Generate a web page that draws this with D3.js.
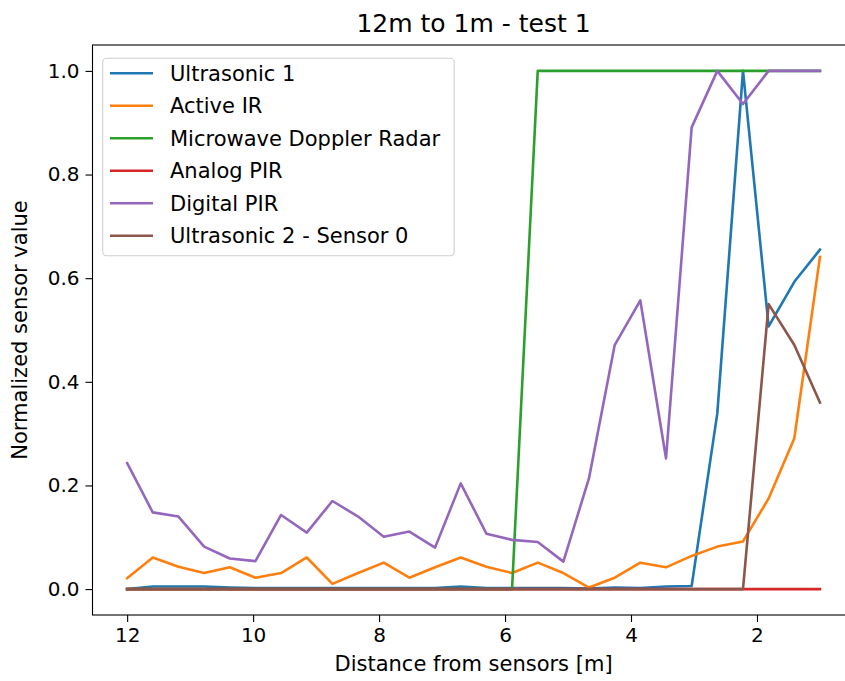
<!DOCTYPE html>
<html>
<head>
<meta charset="utf-8">
<script src="https://cdn.jsdelivr.net/npm/d3@7"></script>
<style>
  html, body { margin: 0; padding: 0; background: #fff; }
  svg { display: block; font-family: "DejaVu Sans", sans-serif; }
</style>
</head>
<body>
<svg id="chart" width="845" height="681"></svg>
<script>
// ---- data ----
const distances = [12, 11.593, 11.185, 10.778, 10.370, 9.963, 9.556, 9.148, 8.741, 8.333,
  7.926, 7.519, 7.111, 6.704, 6.296, 5.889, 5.481, 5.074, 4.667, 4.259,
  3.852, 3.444, 3.037, 2.630, 2.222, 1.815, 1.407, 1.0];

const ultrasonic1 = [0.0, 0.005, 0.005, 0.005, 0.003, 0.002, 0.002, 0.002, 0.002, 0.002,
  0.002, 0.002, 0.002, 0.005, 0.002, 0.002, 0.002, 0.002, 0.001, 0.003,
  0.002, 0.005, 0.006, 0.339, 1.0, 0.507, 0.593, 0.655];
const activeIR = [0.021, 0.061, 0.043, 0.031, 0.042, 0.022, 0.031, 0.061, 0.010, 0.031,
  0.051, 0.022, 0.042, 0.061, 0.043, 0.031, 0.051, 0.031, 0.003, 0.022,
  0.051, 0.042, 0.064, 0.082, 0.092, 0.175, 0.291, 0.641];
const microwave = [0, 0, 0, 0, 0, 0, 0, 0, 0, 0, 0, 0, 0, 0, 0, 0,
  1, 1, 1, 1, 1, 1, 1, 1, 1, 1, 1, 1];
const analogPIR = [0, 0, 0, 0, 0, 0, 0, 0, 0, 0, 0, 0, 0, 0,
  0, 0, 0, 0, 0, 0, 0, 0, 0, 0, 0, 0, 0, 0];
const digitalPIR = [0.243, 0.148, 0.140, 0.082, 0.059, 0.054, 0.143, 0.109, 0.170, 0.140,
  0.101, 0.111, 0.080, 0.204, 0.107, 0.095, 0.091, 0.053, 0.214, 0.471,
  0.557, 0.252, 0.891, 1.0, 0.936, 1.0, 1.0, 1.0];
const ultrasonic2 = [0, 0, 0, 0, 0, 0, 0, 0, 0, 0, 0, 0, 0, 0, 0, 0, 0, 0, 0, 0,
  0, 0, 0, 0, 0, 0.550, 0.471, 0.360];

const seriesNames = ["Ultrasonic 1", "Active IR", "Microwave Doppler Radar", "Analog PIR", "Digital PIR", "Ultrasonic 2 - Sensor 0"];
const seriesValues = [ultrasonic1, activeIR, microwave, analogPIR, digitalPIR, ultrasonic2];
const seriesColors = ["#1f77b4", "#ff7f0e", "#2ca02c", "#d62728", "#9467bd", "#8c564b"];

const xTicks = [12, 10, 8, 6, 4, 2];
const yTicks = [0.0, 0.2, 0.4, 0.6, 0.8, 1.0];

const titleText = "12m to 1m - test 1";
const xLabel = "Distance from sensors [m]";
const yLabel = "Normalized sensor value";

// ---- layout ----
const svg = d3.select("#chart");
const plot = { left: 92.5, right: 854.6, top: 45, bottom: 615 };

const x = d3.scaleLinear().domain([12.55, 0.45]).range([plot.left, plot.right]);
const y = d3.scaleLinear().domain([-0.05, 1.05]).range([plot.bottom, plot.top]);

const tickFont = 20;
const labelFont = 21;

// lines
const line = d3.line().x((d, i) => x(distances[i])).y(d => y(d));
const g = svg.append("g");
seriesValues.forEach((vals, k) => {
  g.append("path")
    .datum(vals)
    .attr("d", line)
    .attr("fill", "none")
    .attr("stroke", seriesColors[k])
    .attr("stroke-width", 2.6)
    .attr("stroke-linejoin", "round")
    .attr("stroke-linecap", "square");
});

// axes
const xAxis = d3.axisBottom(x).tickValues(xTicks).tickFormat(d3.format("d")).tickSize(7).tickPadding(6);
const yAxis = d3.axisLeft(y).tickValues(yTicks).tickFormat(d3.format(".1f")).tickSize(7).tickPadding(6);

const gx = svg.append("g").attr("transform", `translate(0,${plot.bottom})`).call(xAxis);
const gy = svg.append("g").attr("transform", `translate(${plot.left},0)`).call(yAxis);
[gx, gy].forEach(a => {
  a.select(".domain").remove();
  a.selectAll(".tick line").attr("stroke", "#000").attr("stroke-width", 1.1);
  a.selectAll(".tick text").attr("fill", "#000").style("font-size", tickFont + "px").style("font-family", "DejaVu Sans");
});

// spines
svg.append("rect")
  .attr("x", plot.left).attr("y", plot.top)
  .attr("width", plot.right - plot.left).attr("height", plot.bottom - plot.top)
  .attr("fill", "none").attr("stroke", "#000").attr("stroke-width", 1.1);

// title & labels
svg.append("text").attr("x", (plot.left + plot.right) / 2).attr("y", 32)
  .attr("text-anchor", "middle").style("font-size", "25px").text(titleText);
svg.append("text").attr("x", (plot.left + plot.right) / 2).attr("y", 671)
  .attr("text-anchor", "middle").style("font-size", labelFont + "px").text(xLabel);
svg.append("text")
  .attr("transform", `translate(27,${(plot.top + plot.bottom) / 2}) rotate(-90)`)
  .attr("text-anchor", "middle").style("font-size", labelFont + "px").text(yLabel);

// legend
const leg = svg.append("g");
leg.append("rect").attr("x", 102.7).attr("y", 58.3).attr("width", 351.5).attr("height", 197.4)
  .attr("rx", 4).attr("fill", "#fff").attr("fill-opacity", 0.8).attr("stroke", "#d0d0d0").attr("stroke-width", 1.1);
seriesNames.forEach((name, k) => {
  const cy = 73.3 + k * 32.5;
  leg.append("line").attr("x1", 110).attr("x2", 153).attr("y1", cy).attr("y2", cy)
    .attr("stroke", seriesColors[k]).attr("stroke-width", 2.6);
  leg.append("text").attr("x", 170).attr("y", cy).attr("dy", "0.36em")
    .style("font-size", labelFont + "px").attr("fill", "#000").text(name);
});
</script>
</body>
</html>
